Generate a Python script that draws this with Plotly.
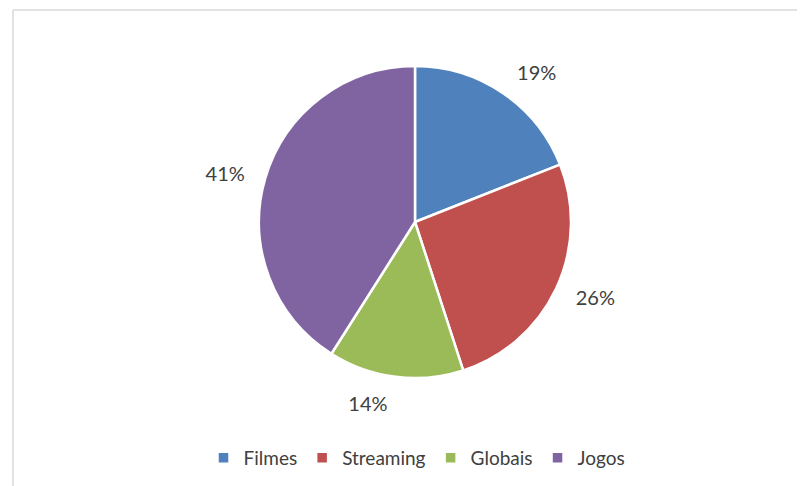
import plotly.graph_objects as go

categories = ["Filmes", "Streaming", "Globais", "Jogos"]
values = [19, 26, 14, 41]
colors = ["#4F81BD", "#C0504D", "#9BBB59", "#8064A2"]

# page body has an 8px margin; figure sized to fit window
OFF = 8
W, H = 805 - OFF, 486 - OFF
cx, cy, r = 415 - OFF, 222 - OFF, 156
r_lab = r + 15

def dom(rad):
    return dict(x=[(cx - rad) / W, (cx + rad) / W],
                y=[(H - cy - rad) / H, (H - cy + rad) / H])

fig = go.Figure()
fig.add_trace(go.Pie(
    labels=categories,
    values=values,
    sort=False,
    direction="clockwise",
    rotation=0,
    marker=dict(colors=colors, line=dict(color="white", width=2.5)),
    textinfo="none",
    domain=dom(r),
    showlegend=True,
    hoverinfo="label+percent",
))
# invisible larger ring carrying the outside labels
fig.add_trace(go.Pie(
    labels=categories,
    values=values,
    sort=False,
    direction="clockwise",
    rotation=0,
    marker=dict(colors=["rgba(0,0,0,0)"] * len(values), line=dict(width=0)),
    textinfo="percent",
    textposition="outside",
    texttemplate="%{percent:.0%}",
    textfont=dict(family="Lato, Open Sans, sans-serif", size=20, color="#404040"),
    domain=dom(r_lab),
    showlegend=False,
    hoverinfo="skip",
))

fig.update_layout(
    width=W, height=H,
    margin=dict(l=0, r=0, t=0, b=0),
    paper_bgcolor="white",
    plot_bgcolor="white",
    font=dict(family="Lato, Open Sans, sans-serif", color="#404040"),
    legend=dict(
        orientation="h",
        x=(417 - OFF) / W, xanchor="center",
        y=(H - (458 - OFF)) / H, yanchor="middle",
        font=dict(size=19, color="#404040"),
        itemwidth=30,
        traceorder="normal",
    ),
    shapes=[
        dict(type="line", xref="paper", yref="paper",
             x0=(13 - OFF) / W, x1=1.01, y0=(H - (10 - OFF)) / H, y1=(H - (10 - OFF)) / H,
             line=dict(color="#D9D9D9", width=1.5)),
        dict(type="line", xref="paper", yref="paper",
             x0=(13 - OFF) / W, x1=(13 - OFF) / W, y0=(H - (10 - OFF)) / H, y1=-0.01,
             line=dict(color="#D9D9D9", width=1.5)),
    ],
)

fig.write_html("out.html")
